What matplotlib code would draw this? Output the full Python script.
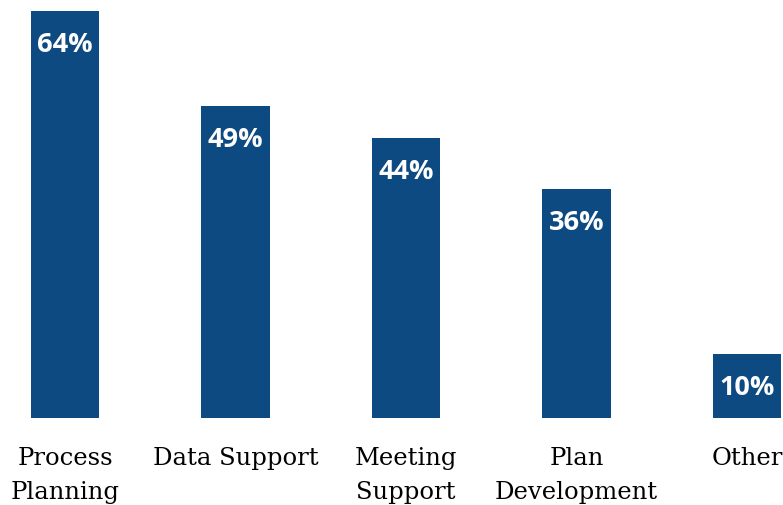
import matplotlib
matplotlib.use("Agg")
import matplotlib.pyplot as plt

categories = ["Process\nPlanning", "Data Support", "Meeting\nSupport", "Plan\nDevelopment", "Other"]
values = [64, 49, 44, 36, 10]
value_labels = ["64%", "49%", "44%", "36%", "10%"]

W, H = 783, 506
fig = plt.figure(figsize=(W / 100, H / 100), dpi=100)
bottom_px = 419
top_px = 10
ax = fig.add_axes([0, (H - bottom_px) / H, 1, (bottom_px - top_px) / H])

color = "#0E4A82"
x = list(range(len(categories)))
bars = ax.bar(x, values, width=0.4, color=color)

step = 170.5
ax.set_xlim(-65 / step, 4 + (W - 747) / step)
ax.set_ylim(0, 64.3)

for xi, v, lab in zip(x, values, value_labels):
    ax.annotate(lab, (xi, v), xytext=(0, -33), textcoords="offset pixels",
                ha="center", va="center", color="white", fontsize=19.5,
                fontweight="bold", family=["Open Sans", "DejaVu Sans"])

ax.set_xticks(x)
ax.set_xticklabels(categories, family="DejaVu Serif", fontsize=17.5, linespacing=1.6)
ax.tick_params(axis="x", length=0, pad=20)
ax.set_yticks([])
for s in ax.spines.values():
    s.set_visible(False)

fig.savefig("out.png", dpi=100)
